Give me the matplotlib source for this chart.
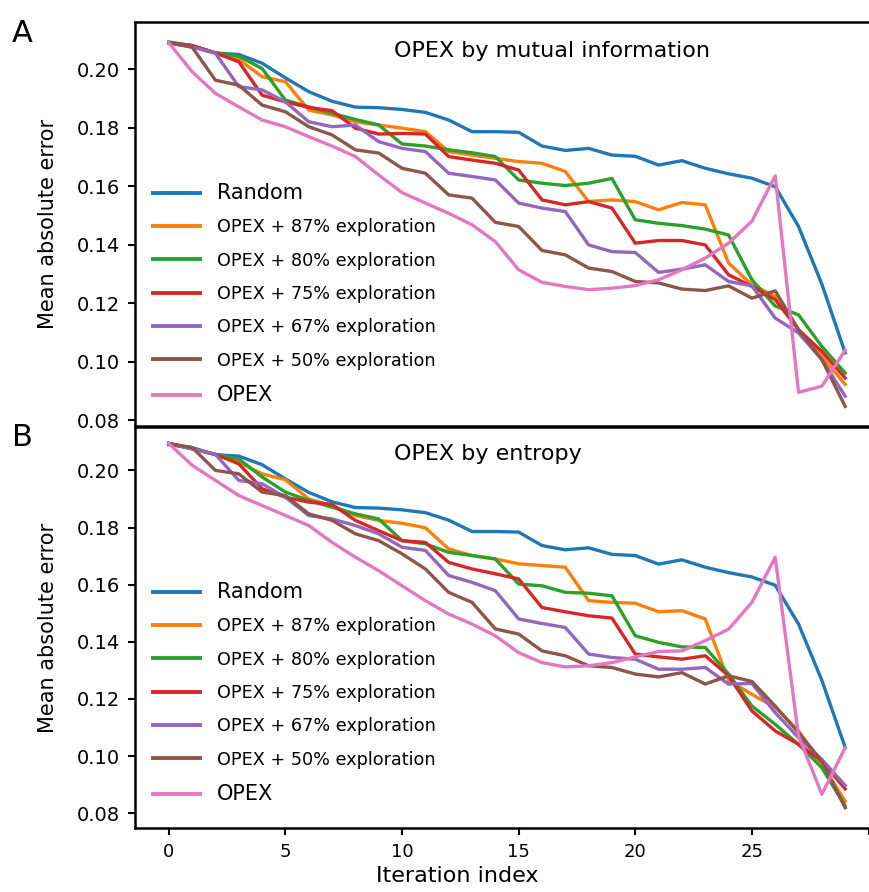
import numpy as np
import matplotlib
matplotlib.use("Agg")
import matplotlib.pyplot as plt

# ---- data ----
iters = np.arange(30)

random_mae = [0.209, 0.208, 0.2055, 0.205, 0.202, 0.197, 0.1923, 0.189, 0.187, 0.1868,
              0.1862, 0.1852, 0.1826, 0.1786, 0.1786, 0.1784, 0.1737, 0.1722, 0.1729, 0.1706,
              0.1702, 0.1672, 0.1687, 0.1661, 0.1642, 0.1627, 0.1598, 0.1462, 0.1265, 0.1030]

# panel A: OPEX by mutual information
mi_87 = [0.209, 0.208, 0.2055, 0.2033, 0.1974, 0.1957, 0.186, 0.1843, 0.182, 0.1809,
         0.1798, 0.1786, 0.1718, 0.1706, 0.1695, 0.1684, 0.1678, 0.165, 0.1547, 0.1553,
         0.1547, 0.1519, 0.1544, 0.1536, 0.1337, 0.1263, 0.1223, 0.1109, 0.1018, 0.0922]
mi_80 = [0.2093, 0.208, 0.2055, 0.2044, 0.2002, 0.1894, 0.1871, 0.1849, 0.1828, 0.1809,
         0.1744, 0.1737, 0.1724, 0.1714, 0.1701, 0.1621, 0.161, 0.1602, 0.161, 0.1626,
         0.1485, 0.1473, 0.1465, 0.1453, 0.1433, 0.128, 0.119, 0.116, 0.1052, 0.0961]
mi_75 = [0.209, 0.208, 0.2055, 0.2025, 0.1911, 0.1888, 0.1869, 0.1858, 0.1798, 0.1778,
         0.178, 0.1778, 0.1701, 0.1689, 0.1678, 0.1655, 0.1553, 0.1536, 0.1547, 0.1525,
         0.1405, 0.1414, 0.1414, 0.1399, 0.1297, 0.1257, 0.1212, 0.1109, 0.1035, 0.0944]
mi_67 = [0.209, 0.2075, 0.2054, 0.194, 0.1929, 0.1888, 0.182, 0.1803, 0.1809, 0.1752,
         0.1729, 0.1718, 0.1644, 0.1633, 0.1621, 0.1542, 0.1525, 0.1513, 0.1399, 0.1376,
         0.1373, 0.1305, 0.1316, 0.1331, 0.1274, 0.1259, 0.1149, 0.1098, 0.1007, 0.0882]
mi_50 = [0.209, 0.2075, 0.1962, 0.1945, 0.1877, 0.1854, 0.1803, 0.1775, 0.1724, 0.1713,
         0.1661, 0.1644, 0.157, 0.1559, 0.1476, 0.1462, 0.138, 0.1365, 0.132, 0.1308,
         0.1274, 0.1269, 0.1248, 0.1243, 0.1259, 0.1217, 0.1242, 0.1109, 0.1007, 0.0847]
mi_opex = [0.209, 0.1991, 0.1917, 0.1871, 0.1826, 0.1803, 0.1769, 0.1737, 0.1701, 0.1638,
           0.1578, 0.1542, 0.1507, 0.1468, 0.141, 0.1314, 0.1271, 0.1257, 0.1246, 0.1251,
           0.126, 0.128, 0.1314, 0.1354, 0.1405, 0.148, 0.1635, 0.0895, 0.0916, 0.1039]

# panel B: OPEX by entropy
en_87 = [0.2094, 0.2076, 0.2056, 0.2029, 0.1988, 0.1967, 0.19, 0.1877, 0.1842, 0.1825,
         0.1815, 0.1799, 0.1725, 0.1702, 0.169, 0.1673, 0.1667, 0.1661, 0.1544, 0.1538,
         0.1535, 0.1505, 0.1509, 0.148, 0.1265, 0.1216, 0.117, 0.1088, 0.0971, 0.0842]
en_80 = [0.2094, 0.2076, 0.2056, 0.204, 0.1977, 0.1924, 0.1895, 0.1871, 0.1848, 0.183,
         0.1754, 0.1743, 0.1713, 0.1702, 0.169, 0.1602, 0.1596, 0.1573, 0.157, 0.1561,
         0.1421, 0.1398, 0.1382, 0.138, 0.1287, 0.1175, 0.1111, 0.1041, 0.0959, 0.0825]
en_75 = [0.2094, 0.2076, 0.2056, 0.2023, 0.1936, 0.1906, 0.1889, 0.1881, 0.1825, 0.1789,
         0.1754, 0.1748, 0.1678, 0.1655, 0.1638, 0.162, 0.152, 0.1505, 0.1491, 0.1483,
         0.1357, 0.1347, 0.1339, 0.1351, 0.1281, 0.1158, 0.1088, 0.1041, 0.0982, 0.0885]
en_67 = [0.2094, 0.2076, 0.2056, 0.1965, 0.1953, 0.1906, 0.1842, 0.183, 0.1807, 0.1778,
         0.1731, 0.172, 0.1632, 0.1608, 0.1579, 0.148, 0.1464, 0.145, 0.1357, 0.1345,
         0.1339, 0.1304, 0.1304, 0.131, 0.1252, 0.1254, 0.1152, 0.1064, 0.0988, 0.0897]
en_50 = [0.2094, 0.208, 0.2, 0.1988, 0.1924, 0.1912, 0.1848, 0.1825, 0.1778, 0.1754,
         0.1708, 0.1655, 0.1573, 0.1538, 0.1445, 0.1427, 0.1368, 0.1351, 0.1316, 0.131,
         0.1287, 0.1277, 0.1292, 0.1252, 0.1281, 0.1261, 0.1175, 0.1082, 0.0982, 0.0819]
en_opex = [0.2094, 0.2018, 0.1965, 0.1912, 0.1877, 0.1842, 0.1807, 0.1748, 0.1696, 0.1649,
           0.1596, 0.1544, 0.1497, 0.1462, 0.1421, 0.1362, 0.1327, 0.1312, 0.1316, 0.1327,
           0.1347, 0.1366, 0.1368, 0.1404, 0.1444, 0.1538, 0.1696, 0.107, 0.0866, 0.1029]

labels = ["Random", "OPEX + 87% exploration", "OPEX + 80% exploration",
          "OPEX + 75% exploration", "OPEX + 67% exploration",
          "OPEX + 50% exploration", "OPEX"]
colors = ["#1f77b4", "#ff7f0e", "#2ca02c", "#d62728", "#9467bd", "#8c564b", "#e377c2"]
yticks = [0.08, 0.10, 0.12, 0.14, 0.16, 0.18, 0.20]
xticks = [0, 5, 10, 15, 20, 25, 30]
xticklabels = ["0", "5", "10", "15", "20", "25", ""]  # 30 falls off the cropped edge

panels = [
    ("A", "OPEX by mutual information",
     [random_mae, mi_87, mi_80, mi_75, mi_67, mi_50, mi_opex], (0.078, 0.2161)),
    ("B", "OPEX by entropy",
     [random_mae, en_87, en_80, en_75, en_67, en_50, en_opex], (0.0748, 0.2152)),
]

fig = plt.figure(figsize=(8.69, 8.92), dpi=100)
W, H = 869, 892
# axes boxes in pixels (left, top, right, bottom); right edge runs past the figure
boxes = [(135, 22, 879, 426), (135, 427, 879, 828)]

for k, ((letter, title, series, ylim), (l, t, r, b)) in enumerate(zip(panels, boxes)):
    ax = fig.add_axes([l / W, (H - b) / H, (r - l) / W, (b - t) / H])
    for y, lab, c in zip(series, labels, colors):
        ax.plot(iters, y, color=c, lw=2.4, label=lab)
    ax.set_xlim(-1.45, 30.45)
    ax.set_ylim(*ylim)
    ax.set_yticks(yticks)
    ax.set_yticklabels([f"{v:.2f}" for v in yticks])
    ax.set_xticks(xticks)
    ax.set_xticklabels(xticklabels)
    for s in ax.spines.values():
        s.set_linewidth(1.8)
    ax.tick_params(axis="y", labelsize=14, length=5, width=1.5, pad=6)
    ax.tick_params(axis="x", labelsize=13, length=5, width=1.5, pad=6)
    ax.set_ylabel("Mean absolute error", fontsize=15)
    ax.yaxis.set_label_coords(-0.104, 0.5)
    if k == 0:
        ax.tick_params(axis="x", bottom=False, labelbottom=False)
    else:
        ax.set_xlabel("Iteration index", fontsize=16)
        ax.xaxis.set_label_coords(0.433, -0.095)

    ax.text(0.348, 0.928 if k == 0 else 0.933, title, transform=ax.transAxes,
            ha="left", va="center", fontsize=16)
    fig.text(12 / W, 1 - (34 if k == 0 else 438) / H, letter, fontsize=22,
             ha="left", va="center")

    leg = ax.legend(loc="lower left", frameon=False, fontsize=12.7,
                    bbox_to_anchor=(0.024, 0.052 if k == 0 else 0.06),
                    borderpad=0, borderaxespad=0, handlelength=2.67,
                    handletextpad=0.95, labelspacing=0.87)
    for txt in leg.get_texts():
        if txt.get_text() in ("Random", "OPEX"):
            txt.set_fontsize(15)
    for ln in leg.get_lines():
        ln.set_linewidth(2.8)

fig.savefig("out.png", dpi=100)
